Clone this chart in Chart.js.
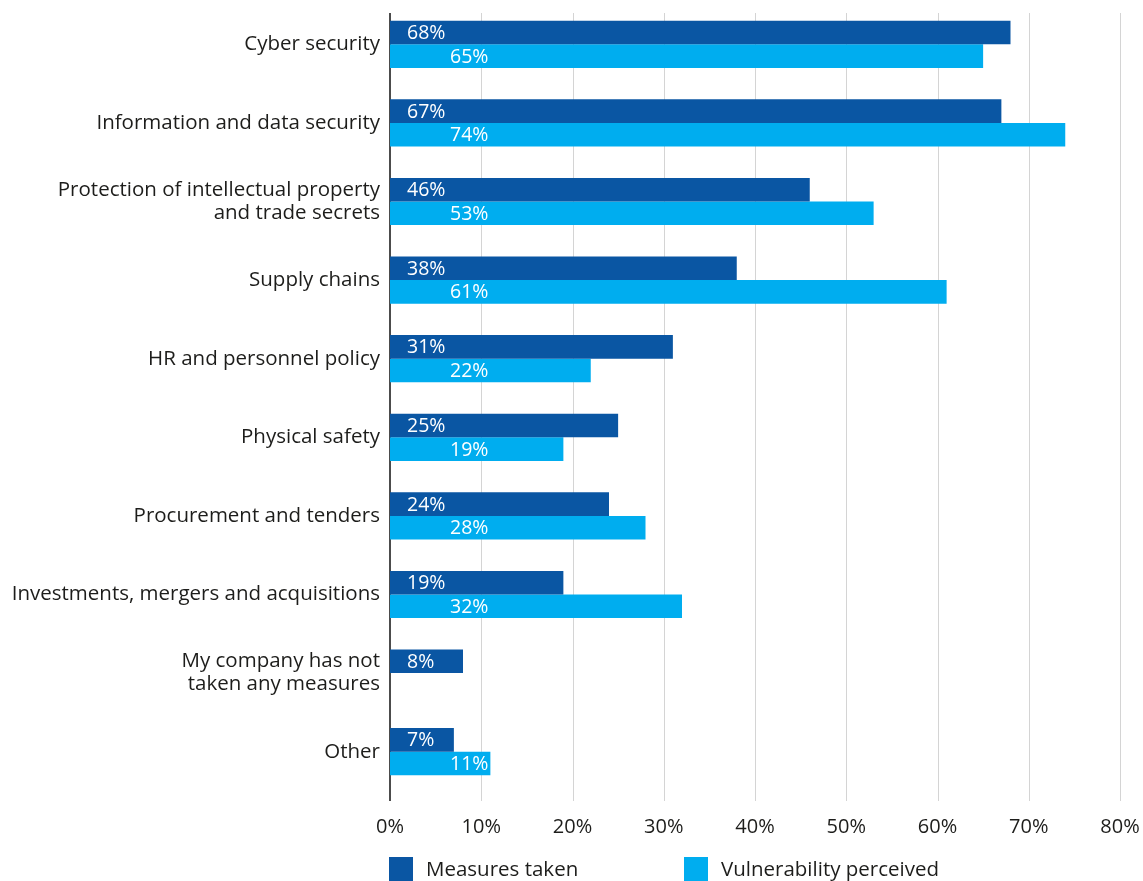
<!DOCTYPE html>
<html>
<head>
<meta charset="utf-8">
<script src="https://cdn.jsdelivr.net/npm/chart.js@4.4.1/dist/chart.umd.min.js"></script>
<style>
  html, body { margin: 0; padding: 0; background: #fff; }
  #wrap { width: 1143px; height: 881px; position: relative; }
</style>
</head>
<body>
<div id="wrap"><canvas id="chart"></canvas></div>
<script>
// categories, top to bottom
const categories = [
  "Cyber security",
  "Information and data security",
  ["Protection of intellectual property", "and trade secrets"],
  "Supply chains",
  "HR and personnel policy",
  "Physical safety",
  "Procurement and tenders",
  "Investments, mergers and acquisitions",
  ["My company has not", "taken any measures"],
  "Other"
];
const measuresTaken = [68, 67, 46, 38, 31, 25, 24, 19, 8, 7];
const vulnerabilityPerceived = [65, 74, 53, 61, 22, 19, 28, 32, null, 11];
const seriesNames = ["Measures taken", "Vulnerability perceived"];
const xTicks = [0, 10, 20, 30, 40, 50, 60, 70, 80];

const DARK = "#0a56a3";
const LIGHT = "#00adef";
const INK = "#1d1d1b";
const FONT = "'Open Sans', Lato, sans-serif";

// vertical grid + the black zero line, a little longer than the bar area
const gridLines = {
  id: "gridLines",
  beforeDatasetsDraw(chart) {
    const {ctx, chartArea, scales: {x}} = chart;
    const top = chartArea.top + 8, bottom = chartArea.bottom + 10;
    ctx.save();
    x.ticks.forEach(t => {
      if (t.value === 0) return;
      const px = Math.round(x.getPixelForValue(t.value)) + 0.5;
      ctx.strokeStyle = "#d4d4d4";
      ctx.lineWidth = 1;
      ctx.beginPath(); ctx.moveTo(px, top); ctx.lineTo(px, bottom); ctx.stroke();
    });
    const x0 = x.getPixelForValue(0);
    ctx.strokeStyle = "#111";
    ctx.lineWidth = 1.5;
    ctx.beginPath(); ctx.moveTo(x0, top); ctx.lineTo(x0, bottom); ctx.stroke();
    ctx.restore();
  }
};

// white percentage labels inside each bar, near its start
const barLabels = {
  id: "barLabels",
  afterDatasetsDraw(chart) {
    const {ctx, scales: {x}} = chart;
    const x0 = x.getPixelForValue(0);
    const offsets = [17, 60];
    ctx.save();
    ctx.font = "19.5px " + FONT;
    ctx.fillStyle = "#fff";
    ctx.textAlign = "left";
    ctx.textBaseline = "middle";
    chart.data.datasets.forEach((ds, di) => {
      chart.getDatasetMeta(di).data.forEach((bar, i) => {
        const v = ds.data[i];
        if (v == null) return;
        ctx.fillText(v + "%", x0 + offsets[di], bar.y + 1);
      });
    });
    ctx.restore();
  }
};

// legend squares under the axis
const bottomLegend = {
  id: "bottomLegend",
  afterDraw(chart) {
    const {ctx, chartArea} = chart;
    const starts = [chartArea.left - 1, chartArea.left + 294];
    ctx.save();
    ctx.font = "20.5px " + FONT;
    ctx.textBaseline = "middle";
    chart.data.datasets.forEach((ds, i) => {
      const bx = starts[i], by = 857;
      ctx.fillStyle = ds.backgroundColor;
      ctx.fillRect(bx, by, 24, 24);
      ctx.fillStyle = INK;
      ctx.fillText(ds.label, bx + 37, by + 13);
    });
    ctx.restore();
  }
};

new Chart(document.getElementById("chart"), {
  type: "bar",
  data: {
    labels: categories,
    datasets: [
      { label: seriesNames[0], data: measuresTaken, backgroundColor: DARK },
      { label: seriesNames[1], data: vulnerabilityPerceived, backgroundColor: LIGHT }
    ]
  },
  options: {
    indexAxis: "y",
    responsive: true,
    maintainAspectRatio: false,
    animation: false,
    categoryPercentage: 0.6,
    barPercentage: 1,
    layout: { padding: { top: 5, right: 23, left: 0, bottom: 0 } },
    plugins: { legend: { display: false }, tooltip: { enabled: false } },
    scales: {
      x: {
        min: 0, max: 80,
        afterBuildTicks: scale => { scale.ticks = xTicks.map(v => ({value: v})); },
        afterFit: scale => {
          scale.height = 90;
          scale.paddingLeft = 0;
          scale.paddingRight = 0;
        },
        grid: { display: false, drawTicks: false },
        border: { display: false },
        ticks: {
          padding: 24,
          color: INK,
          font: { family: FONT, size: 20 },
          callback: v => v + "%"
        }
      },
      y: {
        afterFit: scale => {
          scale.width = 390;
          scale.paddingTop = 0;
          scale.paddingBottom = 0;
        },
        grid: { display: false, drawTicks: false },
        border: { display: false },
        ticks: {
          padding: 10,
          color: INK,
          font: { family: FONT, size: 20.5, lineHeight: 1.12 }
        }
      }
    }
  },
  plugins: [gridLines, barLabels, bottomLegend]
});
</script>
</body>
</html>
